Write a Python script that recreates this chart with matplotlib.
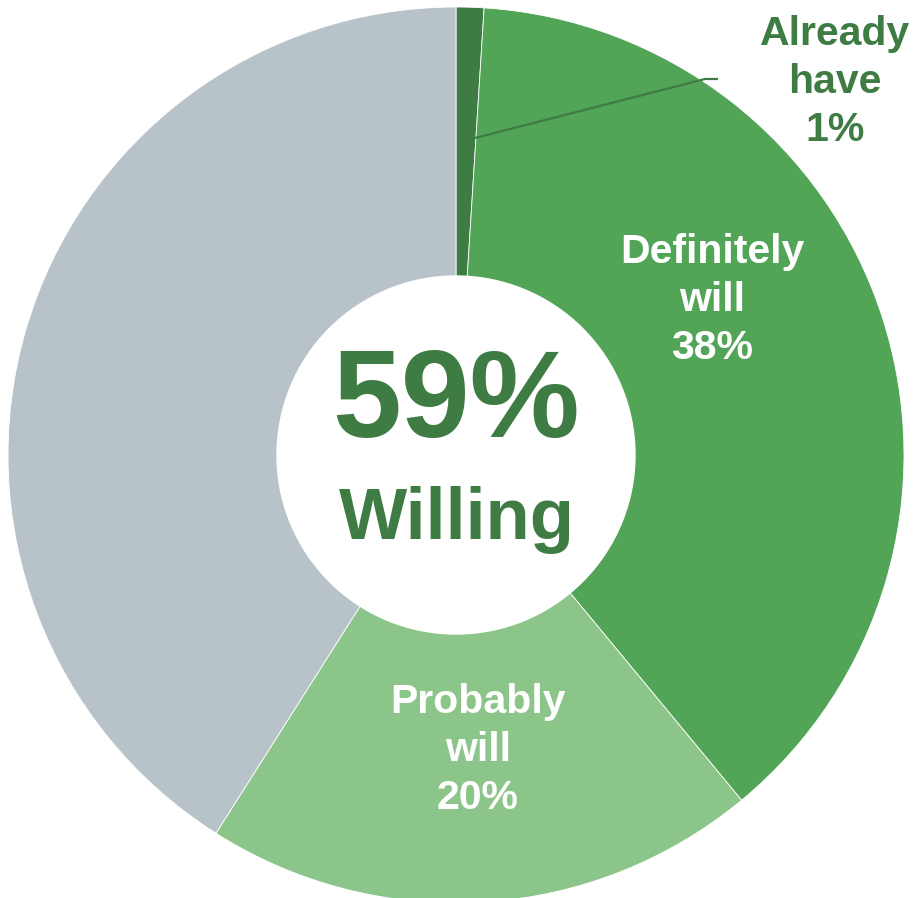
import matplotlib
matplotlib.use("Agg")
import matplotlib.pyplot as plt

# Survey responses (percent)
categories = ["Already have", "Definitely will", "Probably will", "Not willing"]
values = [1, 38, 20, 41]
colors = ["#3E7C43", "#52A456", "#8BC58A", "#B8C3C9"]
willing_total = 59

W, H = 917, 898
fig = plt.figure(figsize=(W / 100, H / 100), dpi=100)
ax = fig.add_axes([0, 0, 1, 1])

cx, cy, r = 456, H - 455, 448
ax.pie(values, colors=colors, startangle=90, counterclock=False,
       center=(cx, cy), radius=r, frame=True,
       wedgeprops=dict(edgecolor="white", linewidth=0.6))
ax.set_xlim(0, W)
ax.set_ylim(0, H)
ax.set_aspect("equal")
ax.axis("off")

# center hole
ax.add_patch(plt.Circle((cx, cy), 179, color="white", zorder=3))

font = "Liberation Sans"
dark = "#3E7C43"

ax.text(cx, H - 405, f"{willing_total}%", ha="center", va="center",
        fontsize=89, fontweight="bold", color=dark, family=font, zorder=4)
ax.text(cx + 1, H - 520, "Willing", ha="center", va="center",
        fontsize=52, fontweight="bold", color=dark, family=font, zorder=4)

ax.text(712, H - 300, f"Definitely\nwill\n{values[1]}%", ha="center", va="center",
        fontsize=29.5, fontweight="bold", color="white", family=font,
        linespacing=1.33, zorder=4)
ax.text(478, H - 750, f"Probably\nwill\n{values[2]}%", ha="center", va="center",
        fontsize=29.5, fontweight="bold", color="white", family=font,
        linespacing=1.33, zorder=4)
ax.text(835, H - 82, f"Already\nhave\n{values[0]}%", ha="center", va="center",
        fontsize=29.5, fontweight="bold", color=dark, family=font,
        linespacing=1.33, zorder=4)

# leader line for the small slice
ax.plot([475, 705, 718], [H - 138, H - 79, H - 79], color=dark, lw=1.6,
        solid_capstyle="butt", zorder=4)

fig.savefig("out.png", dpi=100, facecolor="white")
